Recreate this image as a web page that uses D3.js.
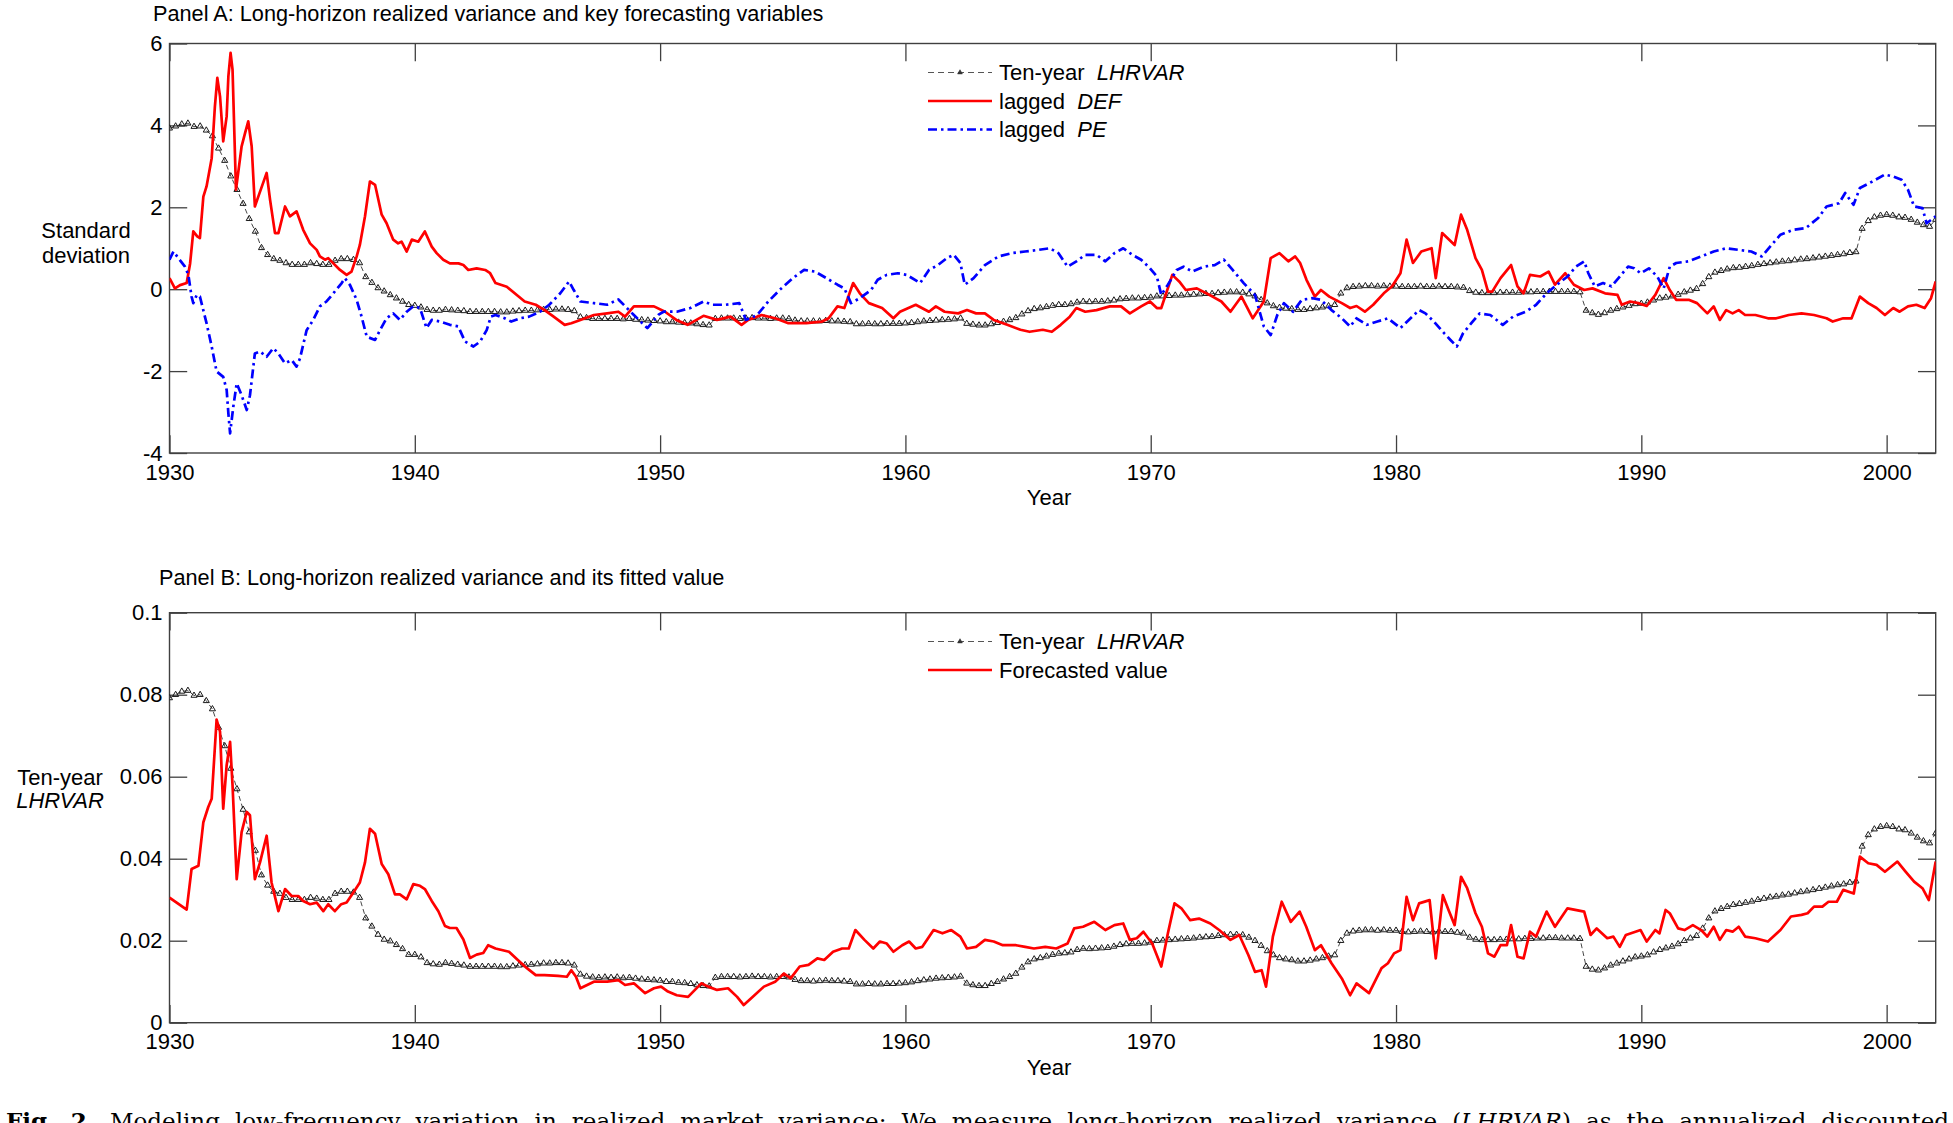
<!DOCTYPE html>
<html><head><meta charset="utf-8">
<script src="https://cdn.jsdelivr.net/npm/d3@7"></script>
<style>
html,body{margin:0;padding:0;background:#fff;}
svg{display:block;}
</style></head><body>
<svg id="chart" width="1953" height="1123"></svg>
<script>
// ---------------- DATA ----------------
const startYear = 1930;
const quartersPerYear = 4;

// Panel A: ten-year LHRVAR, standardized (quarterly from 1930)
const lhrvarStd = [
 3.93,3.98,4.03,4.05, 3.97,3.98,3.88,3.74, 3.44,3.14,2.76,2.43, 2.09,1.72,1.41,1.01,
 0.84,0.74,0.70,0.64, 0.60,0.60,0.60,0.64, 0.62,0.60,0.60,0.70, 0.74,0.74,0.72,0.64,
 0.30,0.16,0.03,-0.05, -0.14,-0.22,-0.30,-0.38, -0.40,-0.44,-0.50,-0.52, -0.52,-0.50,-0.51,-0.52,
 -0.53,-0.55,-0.55,-0.55, -0.55,-0.55,-0.56,-0.56, -0.54,-0.53,-0.52,-0.52, -0.51,-0.50,-0.50,-0.49,
 -0.49,-0.50,-0.53,-0.68, -0.70,-0.72,-0.72,-0.72, -0.72,-0.72,-0.73,-0.72, -0.74,-0.75,-0.76,-0.77,
 -0.78,-0.80,-0.80,-0.81, -0.82,-0.83,-0.85,-0.87, -0.88,-0.72,-0.71,-0.71, -0.71,-0.72,-0.71,-0.70,
 -0.71,-0.71,-0.72,-0.71, -0.71,-0.72,-0.76,-0.78, -0.78,-0.78,-0.78,-0.77, -0.78,-0.78,-0.79,-0.80,
 -0.85,-0.85,-0.84,-0.85, -0.85,-0.84,-0.84,-0.84, -0.83,-0.82,-0.80,-0.78, -0.77,-0.76,-0.75,-0.74,
 -0.73,-0.71,-0.84,-0.86, -0.88,-0.88,-0.85,-0.82, -0.79,-0.75,-0.70,-0.61, -0.53,-0.48,-0.46,-0.43,
 -0.40,-0.38,-0.38,-0.36, -0.32,-0.30,-0.31,-0.30, -0.30,-0.29,-0.27,-0.24, -0.23,-0.22,-0.22,-0.21,
 -0.20,-0.17,-0.17,-0.16, -0.15,-0.15,-0.14,-0.13, -0.12,-0.11,-0.11,-0.09, -0.08,-0.07,-0.07,-0.08,
 -0.12,-0.17,-0.26,-0.34, -0.41,-0.45,-0.47,-0.48, -0.50,-0.50,-0.48,-0.46, -0.44,-0.41,-0.38,-0.10,
 0.03,0.06,0.07,0.08, 0.08,0.07,0.08,0.07, 0.07,0.06,0.06,0.06, 0.07,0.06,0.06,0.07,
 0.06,0.06,0.05,0.04, -0.04,-0.08,-0.09,-0.09, -0.09,-0.08,-0.08,-0.08, -0.08,-0.07,-0.07,-0.06,
 -0.06,-0.06,-0.06,-0.06, -0.06,-0.06,-0.07,-0.52, -0.58,-0.62,-0.58,-0.52, -0.48,-0.44,-0.40,-0.36,
 -0.35,-0.32,-0.27,-0.22, -0.20,-0.17,-0.13,-0.07, -0.03,0.01,0.13,0.30, 0.41,0.45,0.49,0.52,
 0.53,0.55,0.57,0.60, 0.62,0.64,0.66,0.68, 0.69,0.71,0.73,0.74, 0.76,0.78,0.80,0.82,
 0.84,0.86,0.89,0.91, 1.48,1.67,1.76,1.80, 1.82,1.80,1.76,1.75, 1.70,1.63,1.57,1.53,
 1.70
];

// Panel B: ten-year LHRVAR level (quarterly from 1930)
const lhrvarLevel = [
 .0792,.0800,.0808,.0810, .0798,.0800,.0785,.0765, .0720,.0675,.0620,.0570, .0520,.0465,.0420,.0360,
 .0335,.0320,.0315,.0305, .0300,.0300,.0300,.0305, .0303,.0300,.0300,.0315, .0320,.0320,.0318,.0305,
 .0255,.0235,.0215,.0203, .0199,.0190,.0180,.0166, .0166,.0160,.0146,.0143, .0142,.0146,.0144,.0142,
 .0140,.0137,.0137,.0137, .0137,.0137,.0136,.0136, .0138,.0140,.0141,.0142, .0143,.0145,.0145,.0146,
 .0146,.0145,.0140,.0118, .0113,.0111,.0110,.0111, .0110,.0111,.0109,.0110, .0108,.0106,.0105,.0104,
 .0103,.0100,.0100,.0098, .0097,.0095,.0092,.0090, .0089,.0110,.0112,.0112, .0112,.0111,.0112,.0113,
 .0112,.0112,.0111,.0112, .0112,.0111,.0105,.0102, .0102,.0101,.0102,.0103, .0102,.0102,.0101,.0100,
 .0094,.0094,.0095,.0094, .0094,.0095,.0095,.0096, .0097,.0099,.0102,.0104, .0106,.0108,.0109,.0110,
 .0111,.0113,.0096,.0092, .0090,.0090,.0095,.0100, .0106,.0112,.0120,.0135, .0148,.0155,.0158,.0162,
 .0166,.0169,.0170,.0172, .0178,.0181,.0180,.0181, .0182,.0183,.0186,.0190, .0192,.0193,.0193,.0194,
 .0196,.0200,.0201,.0202, .0203,.0204,.0205,.0206, .0208,.0209,.0210,.0212, .0214,.0215,.0215,.0214,
 .0208,.0200,.0188,.0175, .0165,.0158,.0155,.0153, .0150,.0150,.0152,.0155, .0158,.0162,.0165,.0200,
 .0218,.0223,.0225,.0226, .0226,.0225,.0226,.0225, .0225,.0222,.0221,.0222, .0223,.0222,.0221,.0223,
 .0222,.0222,.0220,.0218, .0208,.0203,.0202,.0202, .0202,.0203,.0203,.0204, .0204,.0205,.0205,.0206,
 .0206,.0207,.0207,.0206, .0206,.0206,.0205,.0137, .0130,.0128,.0133,.0140, .0145,.0150,.0155,.0160,
 .0162,.0165,.0172,.0178, .0182,.0186,.0192,.0200, .0206,.0212,.0230,.0255, .0272,.0278,.0283,.0288,
 .0290,.0293,.0296,.0300, .0303,.0306,.0308,.0311, .0313,.0316,.0319,.0321, .0324,.0327,.0330,.0333,
 .0336,.0338,.0342,.0345, .0430,.0458,.0472,.0478, .0480,.0478,.0472,.0470, .0462,.0452,.0443,.0438,
 .0462
];

// Panel A: lagged DEF [year, std. dev.]
const defLagged = [
 [1930.0,0.27],[1930.22,0.02],[1930.43,0.10],[1930.7,0.15],[1930.84,0.63],[1930.97,1.41],[1931.13,1.29],[1931.24,1.25],
 [1931.38,2.26],[1931.51,2.51],[1931.72,3.20],[1931.85,4.46],[1931.95,5.16],[1932.06,4.71],[1932.19,3.61],[1932.33,4.22],
 [1932.4,5.2],[1932.49,5.77],[1932.57,5.36],[1932.71,2.43],[1932.8,2.84],[1932.94,3.49],[1933.08,3.81],[1933.21,4.10],
 [1933.35,3.49],[1933.48,2.02],[1933.62,2.26],[1933.96,2.84],[1934.1,2.18],[1934.3,1.37],[1934.44,1.37],[1934.71,2.02],
 [1934.91,1.78],[1935.18,1.90],[1935.45,1.45],[1935.73,1.12],[1936.0,0.96],[1936.13,0.80],[1936.34,0.72],[1936.47,0.76],
 [1936.68,0.63],[1936.95,0.47],[1937.22,0.35],[1937.42,0.43],[1937.63,0.80],[1937.76,1.08],[1937.97,1.78],[1938.17,2.63],
 [1938.38,2.55],[1938.65,1.82],[1938.85,1.61],[1939.12,1.21],[1939.32,1.12],[1939.46,1.16],[1939.67,0.92],[1939.88,1.21],
 [1940.14,1.16],[1940.41,1.41],[1940.69,1.04],[1940.89,0.88],[1941.16,0.72],[1941.43,0.63],[1941.78,0.63],[1941.98,0.59],
 [1942.18,0.47],[1942.52,0.51],[1942.87,0.47],[1943.07,0.39],[1943.29,0.15],[1943.75,0.06],[1944.48,-0.30],[1944.93,-0.38],
 [1945.29,-0.51],[1945.66,-0.67],[1946.11,-0.87],[1946.38,-0.83],[1946.75,-0.75],[1947.3,-0.63],[1947.84,-0.59],[1948.3,-0.55],
 [1948.57,-0.67],[1948.93,-0.42],[1949.3,-0.42],[1949.75,-0.42],[1950.2,-0.55],[1950.66,-0.75],[1951.12,-0.87],[1951.77,-0.65],
 [1952.32,-0.75],[1952.87,-0.67],[1953.32,-0.87],[1953.59,-0.75],[1954.14,-0.63],[1954.69,-0.71],[1955.23,-0.83],[1955.96,-0.83],
 [1956.6,-0.79],[1956.87,-0.71],[1957.23,-0.42],[1957.51,-0.46],[1957.87,0.15],[1958.14,-0.10],[1958.51,-0.34],[1959.05,-0.46],
 [1959.51,-0.71],[1959.78,-0.55],[1960.42,-0.38],[1960.96,-0.55],[1961.24,-0.42],[1961.6,-0.55],[1962.15,-0.59],[1962.51,-0.51],
 [1962.88,-0.59],[1963.24,-0.59],[1963.6,-0.75],[1964.15,-0.87],[1964.69,-0.99],[1965.06,-1.04],[1965.6,-0.99],[1965.97,-1.04],
 [1966.33,-0.87],[1966.7,-0.67],[1966.97,-0.46],[1967.33,-0.55],[1967.79,-0.51],[1968.33,-0.42],[1968.79,-0.42],[1969.15,-0.59],
 [1969.61,-0.42],[1969.97,-0.30],[1970.25,-0.46],[1970.43,-0.46],[1970.88,0.35],[1971.16,0.19],[1971.43,-0.02],[1971.88,0.02],
 [1972.52,-0.18],[1972.88,-0.30],[1973.25,-0.55],[1973.7,-0.18],[1974.16,-0.71],[1974.61,-0.30],[1974.89,0.76],[1975.25,0.88],
 [1975.61,0.68],[1975.89,0.80],[1976.09,0.64],[1976.35,0.23],[1976.69,-0.18],[1976.94,-0.02],[1977.28,-0.18],[1977.79,-0.34],
 [1978.13,-0.46],[1978.39,-0.41],[1978.73,-0.55],[1979.07,-0.38],[1979.5,-0.10],[1979.84,0.07],[1980.18,0.39],[1980.43,1.21],
 [1980.69,0.64],[1981.03,0.92],[1981.45,1.00],[1981.62,0.27],[1981.88,1.37],[1982.39,1.08],[1982.65,1.82],[1982.9,1.45],
 [1983.24,0.76],[1983.5,0.47],[1983.75,-0.06],[1983.92,-0.06],[1984.26,0.27],[1984.69,0.59],[1984.95,0.07],[1985.2,-0.10],
 [1985.46,0.35],[1985.88,0.31],[1986.22,0.43],[1986.48,0.11],[1986.9,0.39],[1987.25,0.11],[1987.67,-0.02],[1988.01,0.02],
 [1988.52,-0.10],[1989.03,-0.14],[1989.2,-0.38],[1989.54,-0.30],[1989.88,-0.34],[1990.22,-0.41],[1990.57,-0.14],[1990.91,0.27],
 [1991.16,-0.02],[1991.42,-0.26],[1991.93,-0.26],[1992.27,-0.34],[1992.69,-0.59],[1992.95,-0.42],[1993.2,-0.75],[1993.46,-0.51],
 [1993.72,-0.59],[1993.97,-0.51],[1994.23,-0.63],[1994.65,-0.63],[1995.16,-0.71],[1995.5,-0.71],[1996.01,-0.63],[1996.53,-0.59],
 [1997.04,-0.63],[1997.55,-0.71],[1997.8,-0.79],[1998.23,-0.71],[1998.57,-0.71],[1998.91,-0.18],[1999.25,-0.34],[1999.59,-0.46],
 [1999.93,-0.63],[2000.27,-0.46],[2000.53,-0.55],[2000.87,-0.42],[2001.21,-0.38],[2001.55,-0.46],[2001.81,-0.22],[2002.0,0.19]
];

// Panel A: lagged PE [year, std. dev.]
const peLagged = [
 [1930.0,0.72],[1930.16,0.92],[1930.36,0.76],[1930.63,0.55],[1930.77,0.35],[1930.9,-0.18],[1930.97,-0.34],[1931.11,-0.14],
 [1931.24,-0.18],[1931.51,-0.83],[1931.72,-1.40],[1931.92,-2.01],[1932.19,-2.14],[1932.33,-2.46],[1932.4,-3.03],[1932.47,-3.52],
 [1932.6,-2.87],[1932.74,-2.30],[1932.94,-2.59],[1933.15,-2.95],[1933.28,-2.59],[1933.48,-1.57],[1933.69,-1.52],[1933.96,-1.65],
 [1934.23,-1.44],[1934.44,-1.57],[1934.71,-1.81],[1934.98,-1.73],[1935.18,-1.89],[1935.32,-1.69],[1935.59,-1.00],[1935.86,-0.75],
 [1936.13,-0.42],[1936.4,-0.30],[1936.68,-0.10],[1937.02,0.15],[1937.15,0.27],[1937.36,0.10],[1937.63,-0.26],[1937.83,-0.67],
 [1938.04,-1.16],[1938.38,-1.24],[1938.58,-1.00],[1938.85,-0.71],[1939.12,-0.59],[1939.39,-0.75],[1939.67,-0.55],[1939.94,-0.42],
 [1940.21,-0.46],[1940.48,-0.95],[1940.69,-0.75],[1941.03,-0.79],[1941.43,-0.87],[1941.77,-0.91],[1942.05,-1.28],[1942.39,-1.40],
 [1942.66,-1.28],[1942.93,-1.00],[1943.1,-0.67],[1943.29,-0.63],[1943.66,-0.71],[1943.93,-0.79],[1944.29,-0.71],[1944.66,-0.67],
 [1945.11,-0.55],[1945.48,-0.38],[1945.93,-0.10],[1946.29,0.19],[1946.48,-0.02],[1946.75,-0.30],[1947.3,-0.34],[1947.84,-0.38],
 [1948.3,-0.25],[1948.93,-0.63],[1949.48,-0.95],[1949.94,-0.62],[1950.14,-0.55],[1950.68,-0.55],[1951.23,-0.46],[1951.77,-0.30],
 [1952.14,-0.38],[1952.68,-0.38],[1953.23,-0.34],[1953.5,-0.75],[1953.96,-0.63],[1954.41,-0.30],[1954.87,-0.02],[1955.41,0.27],
 [1955.87,0.47],[1956.32,0.43],[1956.78,0.27],[1957.23,0.11],[1957.51,0.02],[1957.78,-0.34],[1958.14,-0.22],[1958.6,-0.02],
 [1958.87,0.23],[1959.24,0.35],[1959.69,0.39],[1960.05,0.35],[1960.6,0.15],[1960.96,0.47],[1961.33,0.59],[1961.69,0.76],
 [1961.97,0.84],[1962.24,0.64],[1962.42,0.11],[1962.78,0.27],[1963.24,0.59],[1963.79,0.80],[1964.33,0.88],[1964.88,0.92],
 [1965.42,0.96],[1965.88,1.00],[1966.24,0.88],[1966.61,0.55],[1966.97,0.68],[1967.33,0.84],[1967.79,0.84],[1968.15,0.68],
 [1968.52,0.88],[1968.88,1.00],[1969.25,0.84],[1969.61,0.72],[1969.97,0.51],[1970.25,0.31],[1970.43,-0.14],[1970.7,0.11],
 [1971.06,0.47],[1971.34,0.55],[1971.7,0.43],[1972.16,0.55],[1972.61,0.59],[1972.98,0.72],[1973.34,0.47],[1973.79,0.15],
 [1974.25,-0.14],[1974.61,-0.91],[1974.89,-1.12],[1975.16,-0.63],[1975.43,-0.34],[1975.8,-0.55],[1976.16,-0.26],[1976.6,-0.22],
 [1976.94,-0.26],[1977.37,-0.51],[1977.79,-0.71],[1978.13,-0.91],[1978.39,-0.71],[1978.81,-0.87],[1979.24,-0.79],[1979.67,-0.71],
 [1980.18,-0.95],[1980.52,-0.75],[1980.94,-0.51],[1981.2,-0.59],[1981.54,-0.79],[1981.97,-1.08],[1982.22,-1.24],[1982.48,-1.40],
 [1982.73,-1.08],[1983.07,-0.83],[1983.41,-0.59],[1983.84,-0.63],[1984.35,-0.87],[1984.77,-0.67],[1985.29,-0.55],[1985.71,-0.38],
 [1986.14,-0.10],[1986.48,0.07],[1986.99,0.31],[1987.33,0.55],[1987.67,0.68],[1987.84,0.39],[1988.1,0.07],[1988.44,0.15],
 [1988.78,0.07],[1989.12,0.31],[1989.46,0.55],[1989.71,0.51],[1989.97,0.39],[1990.31,0.51],[1990.65,0.31],[1990.91,0.02],
 [1991.16,0.55],[1991.42,0.64],[1991.93,0.68],[1992.44,0.80],[1992.95,0.92],[1993.46,1.00],[1993.97,0.96],[1994.48,0.92],
 [1994.91,0.80],[1995.25,1.04],[1995.67,1.33],[1996.19,1.45],[1996.7,1.49],[1997.21,1.74],[1997.55,2.02],[1998.06,2.10],
 [1998.31,2.35],[1998.65,2.06],[1998.91,2.47],[1999.42,2.63],[1999.93,2.80],[2000.27,2.75],[2000.61,2.67],[2000.87,2.43],
 [2001.12,2.02],[2001.46,1.98],[2001.63,1.61],[2002.0,1.78]
];

// Panel B: forecasted value [year, LHRVAR]
const forecastValue = [
 [1930.0,0.0305],[1930.7,0.0276],[1930.9,0.0375],[1931.18,0.0383],[1931.38,0.0489],[1931.58,0.0526],[1931.72,0.0546],[1931.92,0.0739],
 [1932.06,0.0710],[1932.19,0.0522],[1932.33,0.0628],[1932.47,0.0685],[1932.57,0.0579],[1932.74,0.0350],[1932.94,0.0465],[1933.15,0.0514],
 [1933.28,0.0506],[1933.48,0.0350],[1933.69,0.0391],[1933.96,0.0456],[1934.16,0.0342],[1934.44,0.0272],[1934.71,0.0326],[1934.98,0.0309],
 [1935.25,0.0309],[1935.45,0.0297],[1935.73,0.0289],[1936.0,0.0293],[1936.27,0.0272],[1936.47,0.0289],[1936.74,0.0272],[1937.0,0.0289],
 [1937.22,0.0293],[1937.49,0.0317],[1937.76,0.0342],[1937.97,0.0391],[1938.17,0.0473],[1938.38,0.0461],[1938.65,0.0387],[1938.92,0.0362],
 [1939.19,0.0313],[1939.39,0.0313],[1939.67,0.0301],[1939.94,0.0338],[1940.21,0.0334],[1940.41,0.0326],[1940.69,0.0297],[1940.96,0.0272],
 [1941.23,0.0236],[1941.43,0.0231],[1941.7,0.0231],[1941.98,0.0203],[1942.25,0.0158],[1942.52,0.0166],[1942.79,0.0170],[1942.99,0.0189],
 [1943.29,0.0181],[1943.84,0.0173],[1944.2,0.0153],[1944.57,0.0133],[1944.93,0.0116],[1945.29,0.0116],[1945.84,0.0114],[1946.2,0.0112],
 [1946.38,0.0128],[1946.57,0.0112],[1946.75,0.0084],[1947.3,0.0100],[1947.84,0.0100],[1948.3,0.0104],[1948.57,0.0092],[1948.93,0.0096],
 [1949.39,0.0072],[1949.75,0.0084],[1950.04,0.0088],[1950.32,0.0076],[1950.68,0.0067],[1951.14,0.0063],[1951.68,0.0096],[1951.96,0.0088],
 [1952.32,0.0080],[1952.77,0.0084],[1953.14,0.0063],[1953.41,0.0043],[1953.78,0.0063],[1954.23,0.0088],[1954.69,0.0100],[1955.05,0.0120],
 [1955.32,0.0108],[1955.69,0.0137],[1956.05,0.0141],[1956.41,0.0157],[1956.69,0.0153],[1957.05,0.0173],[1957.42,0.0181],[1957.69,0.0181],
 [1957.96,0.0226],[1958.33,0.0202],[1958.69,0.0181],[1958.96,0.0198],[1959.24,0.0193],[1959.51,0.0173],[1959.87,0.0189],[1960.15,0.0198],
 [1960.42,0.0181],[1960.69,0.0185],[1961.15,0.0226],[1961.51,0.0218],[1961.87,0.0226],[1962.24,0.0210],[1962.51,0.0181],[1962.88,0.0185],
 [1963.24,0.0202],[1963.6,0.0198],[1963.97,0.0189],[1964.51,0.0189],[1964.88,0.0185],[1965.24,0.0181],[1965.7,0.0185],[1966.15,0.0181],
 [1966.61,0.0193],[1966.88,0.0230],[1967.24,0.0234],[1967.7,0.0246],[1968.15,0.0226],[1968.52,0.0238],[1968.88,0.0242],[1969.15,0.0202],
 [1969.43,0.0206],[1969.7,0.0222],[1970.06,0.0193],[1970.43,0.0137],[1970.7,0.0218],[1970.97,0.0291],[1971.25,0.0279],[1971.61,0.0250],
 [1971.97,0.0254],[1972.43,0.0242],[1972.79,0.0226],[1973.25,0.0202],[1973.61,0.0214],[1973.98,0.0165],[1974.25,0.0124],[1974.52,0.0128],
 [1974.7,0.0088],[1974.98,0.0210],[1975.34,0.0295],[1975.71,0.0246],[1976.07,0.0271],[1976.34,0.0234],[1976.69,0.0177],[1976.94,0.0189],
 [1977.37,0.0145],[1977.79,0.0108],[1978.13,0.0067],[1978.39,0.0096],[1978.9,0.0072],[1979.41,0.0133],[1979.67,0.0145],[1979.92,0.0169],
 [1980.18,0.0177],[1980.43,0.0307],[1980.69,0.0250],[1980.94,0.0291],[1981.37,0.0299],[1981.62,0.0157],[1981.91,0.0311],[1982.14,0.0275],
 [1982.39,0.0238],[1982.65,0.0356],[1982.9,0.0328],[1983.24,0.0267],[1983.5,0.0234],[1983.75,0.0169],[1984.01,0.0161],[1984.26,0.0189],
 [1984.52,0.0189],[1984.69,0.0238],[1984.95,0.0161],[1985.2,0.0157],[1985.46,0.0222],[1985.71,0.0210],[1986.14,0.0271],[1986.48,0.0234],
 [1986.99,0.0279],[1987.67,0.0271],[1987.93,0.0214],[1988.18,0.0230],[1988.61,0.0206],[1988.86,0.0210],[1989.12,0.0185],[1989.37,0.0214],
 [1989.97,0.0226],[1990.22,0.0198],[1990.57,0.0226],[1990.74,0.0218],[1990.99,0.0275],[1991.16,0.0267],[1991.5,0.0230],[1991.76,0.0226],
 [1992.1,0.0238],[1992.44,0.0226],[1992.69,0.0210],[1992.95,0.0234],[1993.2,0.0202],[1993.46,0.0226],[1993.72,0.0222],[1993.97,0.0234],
 [1994.23,0.0210],[1994.65,0.0206],[1995.16,0.0198],[1995.67,0.0226],[1996.1,0.0259],[1996.53,0.0263],[1996.78,0.0267],[1997.04,0.0283],
 [1997.38,0.0283],[1997.63,0.0295],[1997.97,0.0295],[1998.23,0.0324],[1998.66,0.0315],[1998.91,0.0405],[1999.25,0.0389],[1999.59,0.0385],
 [1999.93,0.0368],[2000.44,0.0393],[2000.78,0.0368],[2001.12,0.0344],[2001.46,0.0328],[2001.72,0.0299],[2002.0,0.0393]
];

const xDomain = [1930, 2002];
const xTicks = [1930, 1940, 1950, 1960, 1970, 1980, 1990, 2000];
const yTicksA = [-4, -2, 0, 2, 4, 6];
const yTicksB = [0, 0.02, 0.04, 0.06, 0.08, 0.1];
const yTickLabelsB = ["0", "0.02", "0.04", "0.06", "0.08", "0.1"];

const titleA = "Panel A: Long-horizon realized variance and key forecasting variables";
const titleB = "Panel B: Long-horizon realized variance and its fitted value";
const legendA = [
  {text: "Ten-year", ital: "LHRVAR", kind: "lhr"},
  {text: "lagged", ital: "DEF", kind: "red"},
  {text: "lagged", ital: "PE", kind: "blue"}
];
const legendB = [
  {text: "Ten-year", ital: "LHRVAR", kind: "lhr"},
  {text: "Forecasted value", ital: "", kind: "red"}
];

// ---------------- DRAWING ----------------
const FONT = '"Liberation Sans", Arial, Helvetica, sans-serif';
const FS = 22;
const FS_TITLE = 21.7;
const TICK = 17.7;
const AXIS_COLOR = "#404040";
const svg = d3.select("#chart");
svg.append("rect").attr("width", 1953).attr("height", 1123).attr("fill", "#fff");

const left = 169.5, right = 1935.7;
const x = d3.scaleLinear().domain(xDomain).range([left, right]);
const qYear = i => startYear + i / quartersPerYear;

const styles = {
  red: {stroke: "#ff0000", width: 2.7, dash: null},
  blue: {stroke: "#0000ff", width: 2.7, dash: "9,4,2.5,4"},
  lhr: {stroke: "#333", width: 0.9, dash: "5,3"}
};

function drawPanel(cfg) {
  const g = svg.append("g");
  const y = d3.scaleLinear().domain(cfg.yDomain).range([cfg.bottom, cfg.top]);
  const clipId = "clip" + cfg.id;
  svg.append("defs").append("clipPath").attr("id", clipId)
    .append("rect").attr("x", left).attr("y", cfg.top).attr("width", right - left).attr("height", cfg.bottom - cfg.top);

  const styleAxis = sel => {
    sel.attr("font-family", FONT).attr("font-size", FS);
    sel.select(".domain").remove();
    sel.selectAll(".tick line").attr("stroke", AXIS_COLOR).attr("stroke-width", 1.3);
    sel.selectAll(".tick text").attr("fill", "#000");
  };
  g.append("g").attr("transform", `translate(0,${cfg.bottom})`)
    .call(d3.axisBottom(x).tickValues(xTicks).tickFormat(d3.format("d")).tickSizeInner(-TICK).tickSizeOuter(0).tickPadding(11))
    .call(styleAxis);
  g.append("g").attr("transform", `translate(0,${cfg.top})`)
    .call(d3.axisTop(x).tickValues(xTicks).tickFormat(() => "").tickSizeInner(-TICK).tickSizeOuter(0))
    .call(styleAxis);
  g.append("g").attr("transform", `translate(${left},0)`)
    .call(d3.axisLeft(y).tickValues(cfg.yTicks).tickFormat((d, i) => cfg.yLabels[i]).tickSizeInner(-TICK).tickSizeOuter(0).tickPadding(7))
    .call(styleAxis);
  g.append("g").attr("transform", `translate(${right},0)`)
    .call(d3.axisRight(y).tickValues(cfg.yTicks).tickFormat(() => "").tickSizeInner(-TICK).tickSizeOuter(0))
    .call(styleAxis);
  g.append("rect").attr("x", left).attr("y", cfg.top).attr("width", right - left).attr("height", cfg.bottom - cfg.top)
    .attr("fill", "none").attr("stroke", AXIS_COLOR).attr("stroke-width", 1.4);

  const plot = g.append("g").attr("clip-path", `url(#${clipId})`);
  const lhrLine = d3.line().x((d, i) => x(qYear(i))).y(d => y(d));
  plot.append("path").datum(cfg.lhr).attr("d", lhrLine).attr("fill", "none")
    .attr("stroke", styles.lhr.stroke).attr("stroke-width", styles.lhr.width).attr("stroke-dasharray", styles.lhr.dash);
  const tri = d3.symbol().type(d3.symbolTriangle).size(16);
  plot.append("g").selectAll("path").data(cfg.lhr).join("path")
    .attr("d", tri)
    .attr("transform", (d, i) => `translate(${x(qYear(i))},${y(d)})`)
    .attr("fill", "none").attr("stroke", "#1a1a1a").attr("stroke-width", 1);

  const pairLine = d3.line().x(d => x(d[0])).y(d => y(d[1]));
  cfg.series.forEach(s => {
    const st = styles[s.kind];
    plot.append("path").datum(s.data).attr("d", pairLine).attr("fill", "none")
      .attr("stroke", st.stroke).attr("stroke-width", st.width)
      .attr("stroke-linejoin", "round")
      .attr("stroke-dasharray", st.dash);
  });

  svg.append("text").attr("x", cfg.titleX).attr("y", cfg.titleY).attr("font-family", FONT).attr("font-size", FS_TITLE)
    .attr("fill", "#000").text(cfg.title);
  svg.append("text").attr("x", 1049).attr("y", cfg.bottom + 52).attr("text-anchor", "middle")
    .attr("font-family", FONT).attr("font-size", FS).attr("fill", "#000").text("Year");
  cfg.yLabel.forEach((ln, i) => {
    svg.append("text").attr("x", cfg.yLabelX).attr("y", cfg.yLabelY + i * cfg.yLabelDy).attr("text-anchor", "middle")
      .attr("font-family", FONT).attr("font-size", FS).attr("fill", "#000")
      .attr("font-style", ln.italic ? "italic" : "normal").text(ln.text);
  });

  const lx0 = 928, lx1 = 992, tx = 999;
  cfg.legend.forEach((it, i) => {
    const ly = cfg.legendY + i * cfg.legendDy;
    const st = styles[it.kind];
    if (it.kind === "lhr") {
      svg.append("line").attr("x1", lx0).attr("x2", lx1).attr("y1", ly).attr("y2", ly)
        .attr("stroke", "#555").attr("stroke-width", 1.1).attr("stroke-dasharray", "6,4");
      svg.append("path").attr("d", d3.symbol().type(d3.symbolTriangle).size(10)())
        .attr("transform", `translate(${(lx0 + lx1) / 2},${ly})`).attr("fill", "#333").attr("stroke", "#333").attr("stroke-width", 0.6);
    } else {
      svg.append("line").attr("x1", lx0).attr("x2", lx1).attr("y1", ly).attr("y2", ly)
        .attr("stroke", st.stroke).attr("stroke-width", st.width).attr("stroke-dasharray", st.dash);
    }
    const t = svg.append("text").attr("x", tx).attr("y", ly + 7.8).attr("font-family", FONT).attr("font-size", FS).attr("fill", "#000");
    t.append("tspan").text(it.text + (it.ital ? "\u00a0\u00a0" : ""));
    if (it.ital) t.append("tspan").attr("font-style", "italic").text(it.ital);
  });
}

drawPanel({
  id: "A", top: 43.5, bottom: 453, yDomain: [-4, 6], yTicks: yTicksA, yLabels: yTicksA.map(String),
  lhr: lhrvarStd,
  series: [{kind: "red", data: defLagged}, {kind: "blue", data: peLagged}],
  title: titleA, titleX: 153, titleY: 21,
  yLabel: [{text: "Standard"}, {text: "deviation"}], yLabelX: 86, yLabelY: 238, yLabelDy: 25,
  legend: legendA, legendY: 72.5, legendDy: 28.5
});
drawPanel({
  id: "B", top: 612.7, bottom: 1022.7, yDomain: [0, 0.1], yTicks: yTicksB, yLabels: yTickLabelsB,
  lhr: lhrvarLevel,
  series: [{kind: "red", data: forecastValue}],
  title: titleB, titleX: 159, titleY: 585,
  yLabel: [{text: "Ten-year"}, {text: "LHRVAR", italic: true}], yLabelX: 60, yLabelY: 785, yLabelDy: 23,
  legend: legendB, legendY: 641.5, legendDy: 28.5
});

// caption (cut off at the bottom edge, as in the reference)
const cap = svg.append("text").attr("x", 6).attr("y", 1129)
  .attr("font-family", '"DejaVu Serif", "Liberation Serif", serif').attr("font-size", 23).attr("fill", "#000");
cap.append("tspan").attr("font-weight", "bold").text("Fig. 2.");
cap.append("tspan").text(" Modeling low-frequency variation in realized market variance: We measure long-horizon realized variance (");
cap.append("tspan").attr("font-style", "italic").text("LHRVAR");
cap.append("tspan").text(") as the annualized discounted");
const target = 1949 - 6;
const natural = cap.node().getComputedTextLength();
const nSpaces = (cap.text().match(/[ \u00a0]/g) || []).length;
if (natural > target) {
  cap.attr("textLength", target).attr("lengthAdjust", "spacingAndGlyphs");
} else if (nSpaces > 0) {
  cap.style("word-spacing", ((target - natural) / nSpaces) + "px");
}
</script>
</body></html>
